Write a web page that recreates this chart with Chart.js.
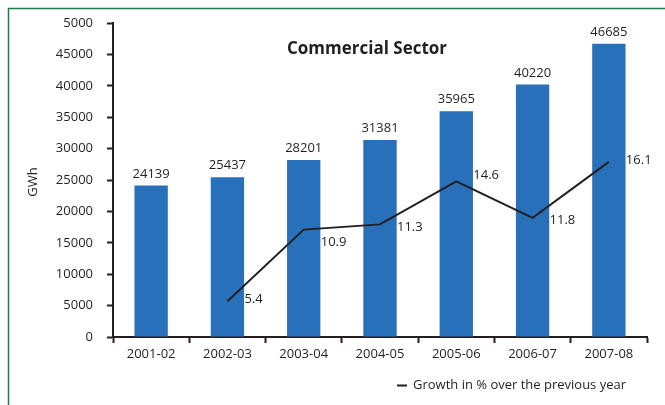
<!DOCTYPE html>
<html>
<head>
<meta charset="utf-8">
<script src="https://cdn.jsdelivr.net/npm/chart.js@4"></script>
<style>
  html, body { margin: 0; padding: 0; background: #fff; }
  canvas { display: block; }
</style>
</head>
<body>
<canvas id="sektor" width="665" height="405"></canvas>
<script>
// Jahre, Verbrauch (GWh) und Zuwachs in %
var jahre = ['2001-02', '2002-03', '2003-04', '2004-05', '2005-06', '2006-07', '2007-08'];
var verbrauch = [24139, 25437, 28201, 31381, 35965, 40220, 46685];
var wachstum = [null, 5.4, 10.9, 11.3, 14.6, 11.8, 16.1];
var yTickLabels = ['0', '5000', '10000', '15000', '20000', '25000', '30000', '35000', '40000', '45000', '5000'];

var dunkel = '#231f20';
var schrift = '13px "Open Sans"';
// vertikaler Versatz der Wachstumswerte, damit sie nicht auf der Linie liegen
var versatz = [0, -2, 13, 3, -6, 2, -2];

// Rahmen, Titel, Achsentitel, Werte und Legende
var extras = {
    id: 'extras',
    beforeDraw: function (chart) {
        var ctx = chart.ctx;
        ctx.save();
        ctx.fillStyle = '#fff';
        ctx.fillRect(0, 0, chart.width, chart.height);
        ctx.strokeStyle = '#267a4d';
        ctx.lineWidth = 1.5;
        ctx.beginPath();
        ctx.moveTo(8.5, chart.height);
        ctx.lineTo(8.5, 8.5);
        ctx.lineTo(chart.width, 8.5);
        ctx.stroke();
        ctx.restore();
    },
    afterDraw: function (chart) {
        var ctx = chart.ctx;
        ctx.save();
        ctx.fillStyle = dunkel;

        ctx.font = 'bold 17px "Open Sans"';
        ctx.textAlign = 'center';
        ctx.textBaseline = 'middle';
        ctx.fillText('Commercial Sector', 367, 49);

        ctx.font = schrift;
        ctx.save();
        ctx.translate(33, 182);
        ctx.rotate(-Math.PI / 2);
        ctx.fillText('GWh', 0, 0);
        ctx.restore();

        // Balkenwerte
        ctx.textBaseline = 'bottom';
        chart.getDatasetMeta(1).data.forEach(function (bar, i) {
            ctx.fillText(verbrauch[i], bar.x, bar.y - 5);
        });

        // Wachstumswerte
        ctx.textAlign = 'left';
        ctx.textBaseline = 'middle';
        chart.getDatasetMeta(0).data.forEach(function (pt, i) {
            if (wachstum[i] === null) return;
            ctx.fillText(wachstum[i].toFixed(1), pt.x + 17, pt.y + versatz[i]);
        });

        // Legende
        ctx.strokeStyle = dunkel;
        ctx.lineWidth = 2;
        ctx.beginPath();
        ctx.moveTo(397, 385.5);
        ctx.lineTo(407, 385.5);
        ctx.stroke();
        ctx.fillText('Growth in % over the previous year', 413, 385);
        ctx.restore();
    }
};

new Chart('sektor', {
    data: {
        labels: jahre,
        datasets: [{
            type: 'line',
            label: 'Growth in % over the previous year',
            data: wachstum,
            yAxisID: 'yg',
            borderColor: dunkel,
            borderWidth: 2,
            pointRadius: 0,
            tension: 0,
            order: 0
        }, {
            type: 'bar',
            label: 'GWh',
            data: verbrauch,
            backgroundColor: '#2870b9',
            barPercentage: 0.437,
            categoryPercentage: 1,
            order: 1
        }]
    },
    options: {
        responsive: false,
        animation: false,
        layout: { padding: { left: 0, top: 23, right: 18, bottom: 0 } },
        plugins: {
            legend: { display: false },
            tooltip: { enabled: false }
        },
        scales: {
            x: {
                grid: { offset: true, drawOnChartArea: false, tickLength: 6, tickColor: dunkel, tickWidth: 2 },
                border: { color: dunkel, width: 2 },
                ticks: { color: dunkel, font: { family: 'Open Sans', size: 13 }, padding: 3, maxRotation: 0 },
                afterFit: function (s) { s.height = 68; }
            },
            y: {
                min: 0,
                max: 50000,
                grid: { drawOnChartArea: false, tickLength: 6, tickColor: dunkel, tickWidth: 2 },
                border: { color: dunkel, width: 2 },
                ticks: {
                    stepSize: 5000,
                    color: dunkel,
                    font: { family: 'Open Sans', size: 13 },
                    padding: 14,
                    callback: function (v, i) { return yTickLabels[i]; }
                },
                afterFit: function (s) { s.width = 113; }
            },
            yg: {
                display: false,
                min: 2.65,
                max: 26.77
            }
        }
    },
    plugins: [extras]
});
</script>
</body>
</html>
